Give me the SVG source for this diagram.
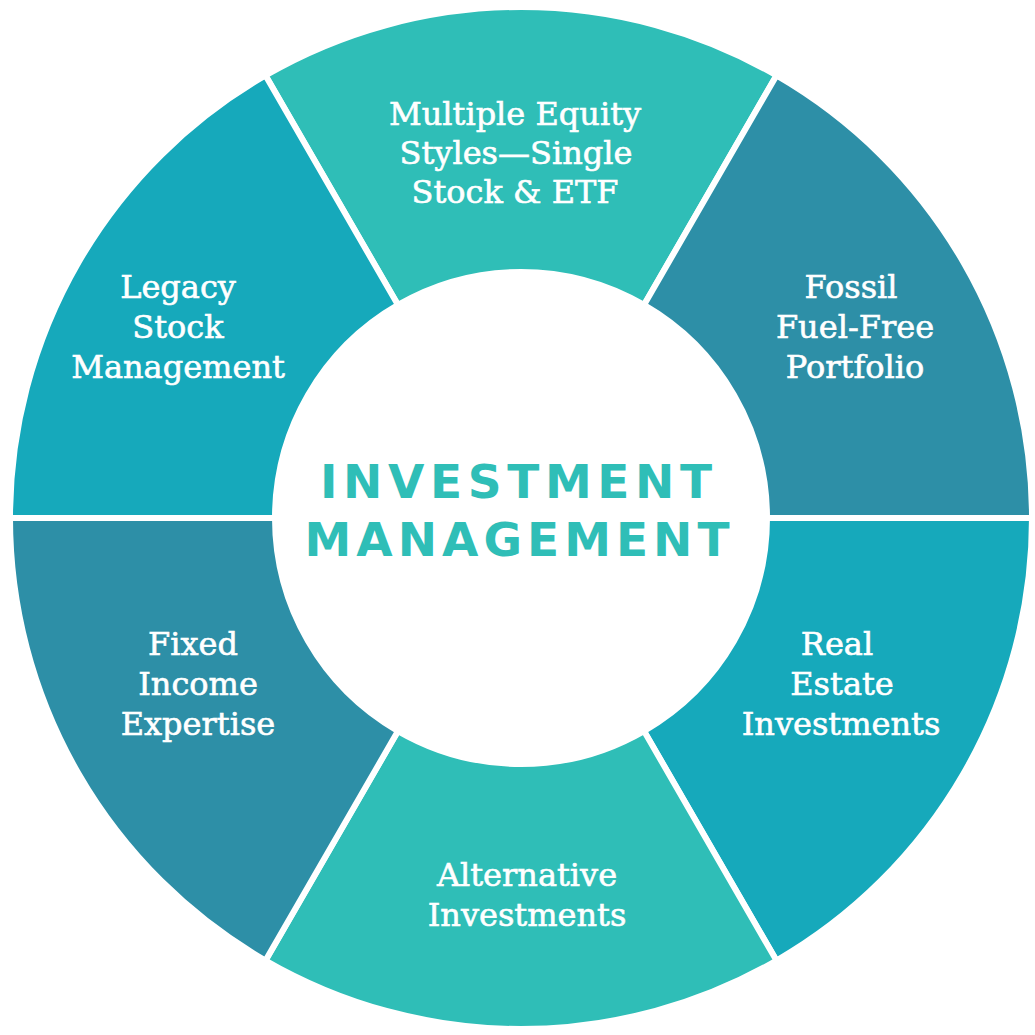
<svg xmlns="http://www.w3.org/2000/svg" width="1035" height="1035" viewBox="0 0 1035 1035">
<style>
.seg{stroke:#fff;stroke-width:6;stroke-linejoin:miter}
.c1{fill:#2FBEB7}
.c2{fill:#16A9BB}
.c3{fill:#2D8FA7}
.lbl{font-family:"DejaVu Serif","Liberation Serif",serif;font-size:32px;fill:#fff;stroke:#fff;stroke-width:0.6;text-anchor:middle}
.ctr{font-family:"DejaVu Sans","Liberation Sans",sans-serif;font-weight:bold;font-size:47px;fill:#2FBEB7;text-anchor:middle}
</style>
<rect width="1035" height="1035" fill="#fff"/>
<g id="seg-top">
<path class="seg c1" d="M776.5 75.46 A511 511 0 0 0 265.5 75.46 L398 304.96 A246 246 0 0 1 644 304.96 Z"/>
<text class="lbl" x="515" y="125">Multiple Equity</text>
<text class="lbl" x="516" y="164">Styles—Single</text>
<text class="lbl" x="515" y="203">Stock &amp; ETF</text>
</g>
<g id="seg-upper-right">
<path class="seg c3" d="M1032 518 A511 511 0 0 0 776.5 75.46 L644 304.96 A246 246 0 0 1 767 518 Z"/>
<text class="lbl" x="851" y="298">Fossil</text>
<text class="lbl" x="855" y="338">Fuel-Free</text>
<text class="lbl" x="855" y="378">Portfolio</text>
</g>
<g id="seg-lower-right">
<path class="seg c2" d="M776.5 960.54 A511 511 0 0 0 1032 518 L767 518 A246 246 0 0 1 644 731.04 Z"/>
<text class="lbl" x="837" y="655">Real</text>
<text class="lbl" x="842" y="695">Estate</text>
<text class="lbl" x="841" y="735">Investments</text>
</g>
<g id="seg-bottom">
<path class="seg c1" d="M265.5 960.54 A511 511 0 0 0 776.5 960.54 L644 731.04 A246 246 0 0 1 398 731.04 Z"/>
<text class="lbl" x="527" y="886">Alternative</text>
<text class="lbl" x="527" y="926">Investments</text>
</g>
<g id="seg-lower-left">
<path class="seg c3" d="M10 518 A511 511 0 0 0 265.5 960.54 L398 731.04 A246 246 0 0 1 275 518 Z"/>
<text class="lbl" x="193" y="655">Fixed</text>
<text class="lbl" x="198" y="695">Income</text>
<text class="lbl" x="198" y="735">Expertise</text>
</g>
<g id="seg-upper-left">
<path class="seg c2" d="M265.5 75.46 A511 511 0 0 0 10 518 L275 518 A246 246 0 0 1 398 304.96 Z"/>
<text class="lbl" x="178" y="298">Legacy</text>
<text class="lbl" x="178" y="338">Stock</text>
<text class="lbl" x="178" y="378">Management</text>
</g>
<g id="center">
<text class="ctr" x="516" y="498" textLength="392" lengthAdjust="spacing">INVESTMENT</text>
<text class="ctr" x="517" y="556" textLength="425" lengthAdjust="spacing">MANAGEMENT</text>
</g>
</svg>
